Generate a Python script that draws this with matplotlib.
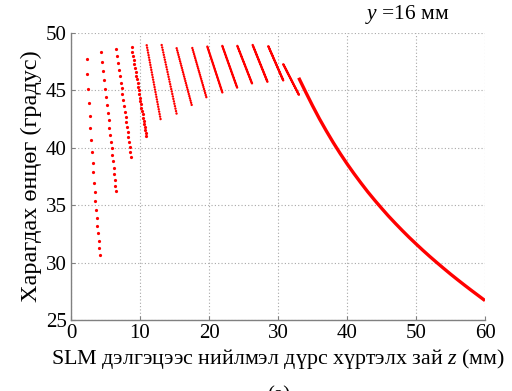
import matplotlib
matplotlib.use("Agg")
import matplotlib.pyplot as plt

plt.rcParams['font.family'] = ['Liberation Serif', 'DejaVu Serif']
plt.rcParams['mathtext.fontset'] = 'custom'
plt.rcParams['mathtext.it'] = 'Liberation Serif:italic'
plt.rcParams['mathtext.rm'] = 'Liberation Serif'

# Sparse dotted segments (individual points)
seg1_z = [2.27, 2.32, 2.42, 2.56, 2.71, 2.80, 2.95, 3.04, 3.14, 3.24,
          3.33, 3.43, 3.48, 3.58, 3.72, 3.82, 3.91, 4.01, 4.11, 4.25]
seg1_a = [47.74, 46.40, 45.09, 43.93, 42.77, 41.70, 40.71, 39.66, 38.70, 37.86,
          36.96, 36.15, 35.39, 34.61, 33.91, 33.19, 32.55, 31.85, 31.27, 30.66]
seg2_z = [4.39, 4.54, 4.68, 4.81, 4.95, 5.08, 5.20, 5.32, 5.44, 5.55,
          5.66, 5.76, 5.87, 5.97, 6.06, 6.16, 6.26, 6.35, 6.44, 6.52]
seg2_a = [48.32, 47.47, 46.66, 45.91, 45.15, 44.43, 43.70, 43.03, 42.39, 41.75,
          41.11, 40.53, 39.95, 39.34, 38.82, 38.27, 37.72, 37.20, 36.67, 36.24]
seg3_z = [6.57, 6.69, 6.84, 6.97, 7.10, 7.23, 7.34, 7.46, 7.57, 7.68,
          7.80, 7.91, 8.00, 8.11, 8.20, 8.31, 8.40, 8.50, 8.60, 8.70]
seg3_a = [48.58, 48.03, 47.39, 46.81, 46.23, 45.67, 45.18, 44.66, 44.16, 43.67,
          43.15, 42.68, 42.25, 41.78, 41.38, 40.91, 40.48, 40.04, 39.61, 39.17]
seg4_z = [8.80, 8.90, 9.00, 9.10, 9.19, 9.28, 9.38, 9.46, 9.55, 9.64, 9.72, 9.81, 9.89,
          9.98, 10.06, 10.14, 10.21, 10.29, 10.37, 10.45, 10.53, 10.61, 10.68, 10.75, 10.81, 10.87]
seg4_a = [48.75, 48.37, 48.00, 47.65, 47.30, 46.95, 46.60, 46.28, 45.96, 45.64, 45.32, 45.01, 44.69,
          44.37, 44.08, 43.79, 43.50, 43.21, 42.92, 42.62, 42.33, 42.04, 41.78, 41.52, 41.29, 41.06]

# Dense dotted segments: start/end (z, angle)
dense_z_start = [10.97, 13.14, 15.31, 17.58, 19.76, 21.93, 24.11, 26.33, 28.60, 30.77]
dense_a_start = [48.93, 48.95, 48.67, 48.69, 48.81, 48.87, 48.87, 48.95, 48.84, 47.27]
dense_z_end = [13.04, 15.31, 17.49, 19.66, 21.93, 24.11, 26.28, 28.50, 30.77, 33.04]
dense_a_end = [42.30, 42.94, 43.73, 44.31, 44.83, 45.18, 45.53, 45.70, 45.85, 44.60]

# Continuous curve
curve_z = [33.0, 34.0, 35.0, 36.0, 37.0, 38.0, 39.0, 40.0, 41.0, 42.0, 43.0, 44.0, 45.0,
           46.0, 47.0, 48.0, 49.0, 50.0, 51.0, 52.0, 53.0, 54.0, 55.0, 56.0, 57.0,
           58.0, 59.0, 60.0]
curve_a = [46.10, 44.87, 43.67, 42.53, 41.47, 40.46, 39.51, 38.61, 37.76, 36.95, 36.17, 35.44, 34.74,
           34.06, 33.42, 32.80, 32.20, 31.63, 31.07, 30.53, 30.01, 29.50, 29.00, 28.52, 28.05,
           27.59, 27.14, 26.69]

xticks = [0, 10, 20, 30, 40, 50, 60]
yticks = [25, 30, 35, 40, 45, 50]

red = '#ff0000'
fig = plt.figure(figsize=(5.12, 3.91), dpi=100)
ax = fig.add_axes([0.1387, 0.1816, 0.8086, 0.734])

for zz, aa in [(seg1_z, seg1_a), (seg2_z, seg2_a), (seg3_z, seg3_a), (seg4_z, seg4_a)]:
    ax.plot(zz, aa, linestyle='none', marker='o', ms=2.3, mec='none', mfc=red)

gaps = [1.0, 1.0, 0.9, 0.85, 0.6, 0.55, 0.5, 0.45, 0.4, 0.4]
for i in range(len(dense_z_start)):
    ax.plot([dense_z_start[i], dense_z_end[i]], [dense_a_start[i], dense_a_end[i]],
            color=red, lw=1.8, linestyle=(0, (0.001, gaps[i])), dash_capstyle='round')

ax.plot(curve_z, curve_a, color=red, lw=2.4, solid_capstyle='butt', solid_joinstyle='round')

ax.set_xlim(0, 60)
ax.set_ylim(25, 50)
ax.set_xticks(xticks)
ax.set_yticks(yticks)
ax.grid(True, linestyle=(0, (1, 2)), color='#a8a8a8', lw=0.8)
for s in ['top', 'right']:
    ax.spines[s].set_visible(False)
for s in ['left', 'bottom']:
    ax.spines[s].set_color('#808080')
    ax.spines[s].set_linewidth(1.0)
ax.tick_params(direction='in', length=3, color='#808080', labelsize=15, pad=3)

ax.set_xlabel('SLM дэлгэцээс нийлмэл дүрс хүртэлх зай $z$ (мм)', fontsize=15.8, labelpad=3)
ax.set_ylabel('Харагдах өнцөг (градус)', fontsize=17.5, labelpad=3)
fig.text(0.795, 0.962, '$y$ =16 мм', fontsize=15.5, ha='center', va='center')
fig.text(0.545, 0.012, '(a)', fontsize=15, ha='center', va='top')

fig.savefig('out.png', dpi=100)
